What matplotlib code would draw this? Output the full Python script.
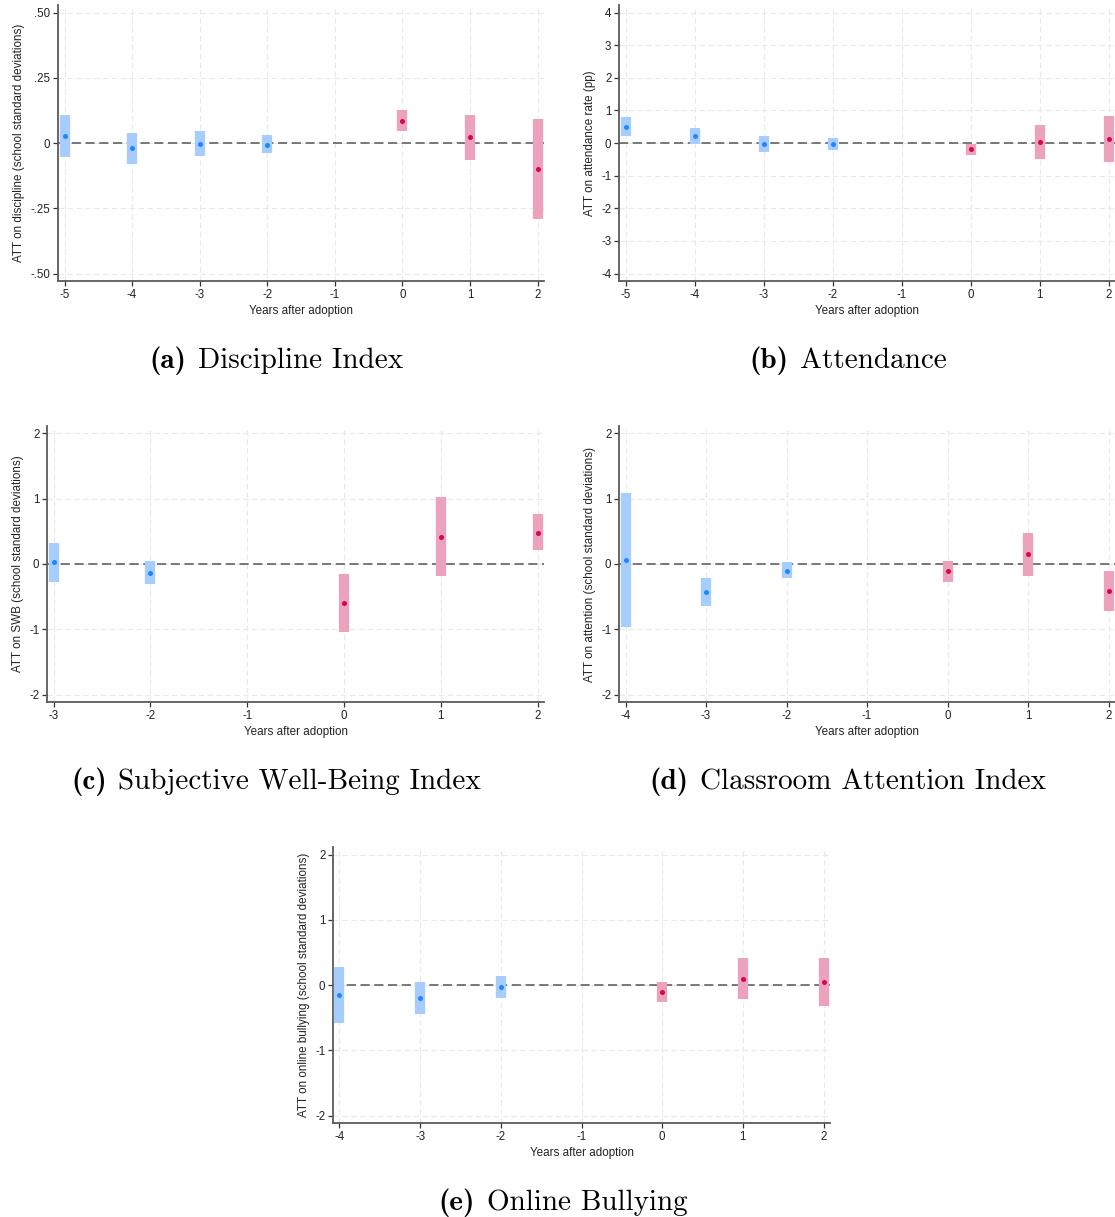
import matplotlib
matplotlib.use("Agg")
import matplotlib.pyplot as plt
import numpy as np

plt.rcParams["font.family"] = ["Liberation Sans", "DejaVu Sans"]
plt.rcParams["axes.unicode_minus"] = False

# event-study estimates: relative year, point estimate, CI low, CI high
disc_year = [-5, -4, -3, -2, 0, 1, 2]
disc_att = [0.026, -0.021, -0.002, -0.006, 0.085, 0.022, -0.099]
disc_lo = [-0.053, -0.080, -0.049, -0.039, 0.047, -0.066, -0.292]
disc_hi = [0.107, 0.038, 0.045, 0.030, 0.125, 0.109, 0.093]

att_year = [-5, -4, -3, -2, 0, 1, 2]
att_att = [0.50, 0.21, -0.03, -0.03, -0.18, 0.03, 0.12]
att_lo = [0.20, -0.04, -0.27, -0.22, -0.36, -0.48, -0.57]
att_hi = [0.80, 0.47, 0.21, 0.16, -0.02, 0.54, 0.83]

swb_year = [-3, -2, 0, 1, 2]
swb_att = [0.03, -0.14, -0.60, 0.42, 0.48]
swb_lo = [-0.27, -0.30, -1.04, -0.19, 0.21]
swb_hi = [0.32, 0.04, -0.16, 1.03, 0.76]

attn_year = [-4, -3, -2, 0, 1, 2]
attn_att = [0.06, -0.43, -0.10, -0.11, 0.15, -0.41]
attn_lo = [-0.97, -0.64, -0.22, -0.27, -0.18, -0.72]
attn_hi = [1.09, -0.22, 0.03, 0.04, 0.47, -0.10]

bully_year = [-4, -3, -2, 0, 1, 2]
bully_att = [-0.16, -0.20, -0.03, -0.11, 0.09, 0.04]
bully_lo = [-0.58, -0.45, -0.20, -0.26, -0.22, -0.32]
bully_hi = [0.27, 0.05, 0.14, 0.04, 0.41, 0.41]

disc_yticks = [0.5, 0.25, 0, -0.25, -0.5]
disc_ylabels = [".50", ".25", "0", "-.25", "-.50"]
att_yticks = [4, 3, 2, 1, 0, -1, -2, -3, -4]
sd_yticks = [2, 1, 0, -1, -2]

W, H = 1115, 1217
fig = plt.figure(figsize=(W / 100, H / 100), dpi=100)
renderer = fig.canvas.get_renderer()

PRE_BAR, PRE_DOT = "#a6cdfd", "#1f86ff"
POST_BAR, POST_DOT = "#eca1bd", "#d4084f"


def caption(tag, name, cx, cy, size=21):
    # bold tag + roman title, centred together as one line
    y = 1 - cy / H
    t1 = fig.text(0, y, tag, fontsize=size, family="cmb10", va="center")
    t2 = fig.text(0, y, name, fontsize=size, family="cmr10", va="center")
    w1 = t1.get_window_extent(renderer).width
    w2 = t2.get_window_extent(renderer).width
    gap = size * 0.55
    x0 = cx - (w1 + gap + w2) / 2
    t1.set_x(x0 / W)
    t2.set_x((x0 + w1 + gap) / W)


def panel(box, years, att, lo, hi, yticks, ylabels, ylabel):
    left, right, top, bottom = box
    ax = fig.add_axes([left / W, 1 - bottom / H, (right - left) / W, (bottom - top) / H])
    xt = list(range(min(years), max(years) + 1))
    # keep ~7px between outer ticks and the plot edge
    mx = (xt[-1] - xt[0]) * 6.5 / (right - left - 13)
    ax.set_xlim(xt[0] - mx, xt[-1] + mx)
    my = (max(yticks) - min(yticks)) * 7.5 / (bottom - top - 15)
    ax.set_ylim(min(yticks) - my, max(yticks) + my)

    ax.set_xticks(xt)
    ax.set_xticklabels([str(v) for v in xt])
    ax.set_yticks(yticks)
    ax.set_yticklabels(ylabels if ylabels else [str(v) for v in yticks])
    ax.grid(True, color="#e9e9e9", lw=0.8, ls=(0, (5, 3)))
    ax.set_axisbelow(True)

    for s in ["top", "right"]:
        ax.spines[s].set_visible(False)
    for s in ["left", "bottom"]:
        ax.spines[s].set_color("#5a5a5a")
        ax.spines[s].set_linewidth(1.3)
    ax.tick_params(length=3.5, width=0.9, color="#333333", labelsize=8.3,
                   labelcolor="#222222", pad=2)

    ax.axhline(0, color="#555555", lw=1.1, ls=(0, (6, 3)), zorder=2)

    years = np.array(years)
    pre = years < 0
    for mask, bc, dc in [(pre, PRE_BAR, PRE_DOT), (~pre, POST_BAR, POST_DOT)]:
        ax.vlines(years[mask], np.array(lo)[mask], np.array(hi)[mask],
                  color=bc, lw=7.4, capstyle="butt", zorder=3)
        ax.plot(years[mask], np.array(att)[mask], "o", color=dc, ms=3.6,
                mec="none", zorder=4)

    ax.set_xlabel("Years after adoption", fontsize=8.4, color="#222222", labelpad=3)
    ax.set_ylabel(ylabel, fontsize=8.4, color="#222222", labelpad=4)
    return ax


panel((58, 544, 5, 281), disc_year, disc_att, disc_lo, disc_hi, disc_yticks,
      disc_ylabels, "ATT on discipline (school standard deviations)")
caption("(a)", "Discipline Index", 276, 361)

panel((619, 1115, 5, 281), att_year, att_att, att_lo, att_hi, att_yticks, None,
      "ATT on attendance rate (pp)")
caption("(b)", "Attendance", 848, 361)

panel((47, 544, 426, 702), swb_year, swb_att, swb_lo, swb_hi, sd_yticks, None,
      "ATT on SWB (school standard deviations)")
caption("(c)", "Subjective Well-Being Index", 276, 782)

panel((619, 1115, 426, 702), attn_year, attn_att, attn_lo, attn_hi, sd_yticks, None,
      "ATT on attention (school standard deviations)")
caption("(d)", "Classroom Attention Index", 848, 782)

panel((333, 830, 847, 1123), bully_year, bully_att, bully_lo, bully_hi, sd_yticks, None,
      "ATT on online bullying (school standard deviations)")
caption("(e)", "Online Bullying", 563, 1203)

fig.savefig("out.png", dpi=100)
